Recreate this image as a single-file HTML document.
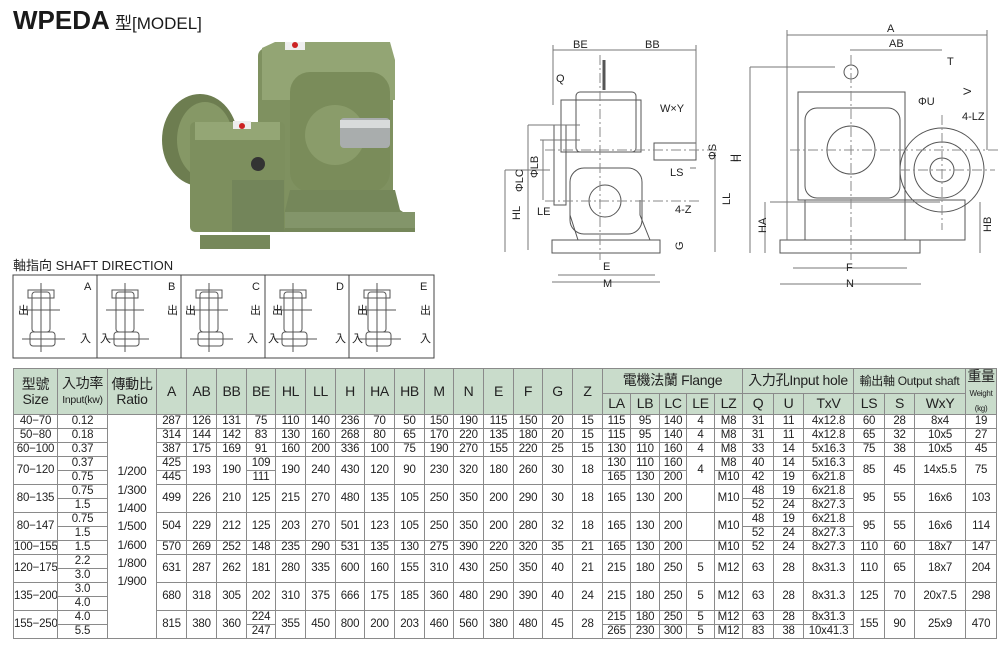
<!DOCTYPE html>
<html><head><meta charset="utf-8"><style>
body{margin:0;background:#fff;width:1000px;height:664px;position:relative;overflow:hidden;font-family:"Liberation Sans","Noto Sans CJK TC",sans-serif;color:#222}
svg{position:absolute;left:0;top:0}
table{position:absolute;left:13px;top:368px;width:983px;border-collapse:collapse;table-layout:fixed;font-size:11.5px;letter-spacing:-0.2px}
td{border:1px solid #8a8a8a;padding:0;text-align:center;height:13px;line-height:13px;white-space:nowrap;overflow:hidden}
.h td{background:#c9dccb;font-size:14px;line-height:15px;letter-spacing:-0.3px}
.sm{font-size:10.5px!important}
.ratio{line-height:18.3px;font-size:12px}
</style></head><body>
<svg width="1000" height="366" viewBox="0 0 1000 366">
<text x="13" y="29" font-family="Liberation Sans" font-weight="bold" font-size="26" fill="#1a1a1a">WPEDA</text>
<text x="115" y="29" font-family="Liberation Sans,Noto Sans CJK TC,sans-serif" font-size="17" fill="#1a1a1a">型[MODEL]</text>
<g>
<ellipse cx="200" cy="140" rx="38" ry="46" fill="#6d7d50"/>
<ellipse cx="205" cy="140" rx="28" ry="38" fill="#869866"/>
<rect x="258" y="48" width="135" height="180" rx="8" fill="#7f9160"/>
<path d="M262 48 L275 42 L390 42 L395 60 L395 100 L262 100Z" fill="#93a574"/>
<rect x="290" y="72" width="100" height="120" rx="20" fill="#7a8c5a"/>
<circle cx="335" cy="135" r="30" fill="#8a9c6a"/>
<rect x="340" y="118" width="50" height="30" rx="4" fill="#a9adad"/>
<rect x="340" y="120" width="50" height="8" fill="#d8dbdb"/>
<path d="M290 190 L395 190 L400 210 L415 220 L415 232 L280 232Z" fill="#75875a"/>
<rect x="190" y="122" width="95" height="110" rx="5" fill="#7d8f5e"/>
<rect x="195" y="122" width="85" height="18" fill="#94a675"/>
<rect x="232" y="180" width="52" height="52" fill="#73855a"/>
<circle cx="258" cy="164" r="7" fill="#333"/>
<rect x="200" y="235" width="70" height="14" fill="#76885a"/>
<rect x="285" y="212" width="130" height="16" fill="#83956a"/>
<rect x="285" y="42" width="20" height="8" fill="#eee"/><circle cx="295" cy="45" r="3" fill="#c22"/>
<rect x="233" y="121" width="18" height="8" fill="#eee"/><circle cx="242" cy="126" r="3" fill="#c22"/>
</g>
<g stroke="#555" stroke-width="1" fill="none" font-family="Liberation Sans" font-size="11">
<rect x="552" y="240" width="108" height="13"/>
<path d="M578 240 L570 215 L570 200 M640 200 L640 215 L650 240"/>
<rect x="576" y="92" width="60" height="60" rx="4"/>
<rect x="561" y="100" width="80" height="52"/>
<rect x="570" y="168" width="72" height="66" rx="14"/>
<circle cx="605" cy="201" r="16"/>
<rect x="654" y="143" width="42" height="17"/>
<rect x="554" y="125" width="12" height="80"/>
<path d="M604 60 L604 90" stroke-width="3"/>
<path d="M553 50 L696 50 M553 45 L553 105 M696 45 L696 150 M528 125 L580 125 M540 140 L580 140 M528 125 L528 250 M543 140 L543 200 M505 170 L550 170 M505 170 L505 252 M715 152 L715 252 M558 275 L655 275 M552 282 L660 282 M690 168 L696 168" stroke="#777"/>
<path d="M600 55 L600 260 M545 150 L720 150 M545 201 L700 201" stroke="#888" stroke-dasharray="10 3 2 3"/>
<g fill="#222" stroke="none">
<text x="573" y="48">BE</text><text x="645" y="48">BB</text><text x="556" y="82">Q</text>
<text x="660" y="112">W×Y</text><text x="670" y="176">LS</text><text x="537" y="215">LE</text>
<text x="675" y="213">4-Z</text><text x="603" y="270">E</text><text x="603" y="287">M</text>
<text x="738" y="162" transform="rotate(-90 738 162)">H</text>
<text x="730" y="205" transform="rotate(-90 730 205)">LL</text>
<text x="520" y="220" transform="rotate(-90 520 220)">HL</text>
<text x="523" y="192" transform="rotate(-90 523 192)">ΦLC</text>
<text x="538" y="178" transform="rotate(-90 538 178)">ΦLB</text>
<text x="716" y="160" transform="rotate(-90 716 160)">ΦS</text>
<text x="683" y="250" transform="rotate(-90 683 250)">G</text>
</g></g>
<g stroke="#555" stroke-width="1" fill="none" font-family="Liberation Sans" font-size="11">
<rect x="780" y="240" width="140" height="13"/>
<path d="M798 92 L905 92 L905 200 L798 200Z"/>
<rect x="805" y="108" width="95" height="90" rx="12"/>
<circle cx="851" cy="150" r="24"/>
<circle cx="851" cy="72" r="7"/>
<circle cx="942" cy="170" r="42"/><circle cx="942" cy="170" r="28"/><circle cx="942" cy="170" r="12"/>
<rect x="805" y="200" width="100" height="40"/>
<rect x="905" y="200" width="60" height="40"/>
<path d="M787 35 L987 35 M850 50 L942 50 M787 30 L787 240 M987 30 L987 150 M750 67 L835 67 M750 67 L750 253 M770 202 L940 202 M765 202 L765 253 M980 202 L980 253 M793 268 L907 268 M780 284 L921 284" stroke="#777"/>
<path d="M851 55 L851 260 M790 150 L1000 150 M942 115 L942 230 M900 170 L995 170" stroke="#888" stroke-dasharray="10 3 2 3"/>
<g fill="#222" stroke="none">
<text x="887" y="32">A</text><text x="889" y="47">AB</text><text x="947" y="65">T</text>
<text x="918" y="105">ΦU</text><text x="962" y="120">4-LZ</text><text x="846" y="271">F</text><text x="846" y="287">N</text>
<text x="741" y="162" transform="rotate(-90 741 162)">H</text>
<text x="766" y="233" transform="rotate(-90 766 233)">HA</text>
<text x="991" y="232" transform="rotate(-90 991 232)">HB</text>
<text x="971" y="95" transform="rotate(-90 971 95)">V</text>
</g></g>
<text x="13" y="270" font-family="Liberation Sans,Noto Sans CJK TC,sans-serif" font-size="13" fill="#222">軸指向  SHAFT DIRECTION</text>
<defs><g id="m" stroke="#555" fill="none" stroke-width="1">
<rect x="32" y="292" width="18" height="40" rx="3"/><rect x="28" y="290" width="26" height="8"/>
<rect x="30" y="332" width="25" height="14" rx="3"/>
<path d="M41 283 L41 352 M22 310 L60 310 M22 339 L65 339"/>
</g></defs>
<g stroke="#444" fill="none"><rect x="13" y="275" width="421" height="83"/>
<path d="M97 275V358M181 275V358M265 275V358M349 275V358"/></g>
<use href="#m" x="0"/><use href="#m" x="84"/><use href="#m" x="168"/><use href="#m" x="252"/><use href="#m" x="336"/>
<g font-family="Liberation Sans,Noto Sans CJK TC,sans-serif" font-size="11" fill="#222">
<text x="84" y="290">A</text><text x="168" y="290">B</text><text x="252" y="290">C</text><text x="336" y="290">D</text><text x="420" y="290">E</text>
<text x="80" y="342">入</text><text x="100" y="342">入</text><text x="247" y="342">入</text><text x="268" y="342">入</text><text x="335" y="342">入</text><text x="352" y="342">入</text><text x="420" y="342">入</text>
<text x="18" y="314">出</text><text x="167" y="314">出</text><text x="185" y="314">出</text><text x="250" y="314">出</text><text x="272" y="314">出</text><text x="357" y="314">出</text><text x="420" y="314">出</text>
</g>
</svg>
<table>
<colgroup><col style="width:44px"><col style="width:50px"><col style="width:49px"><col style="width:30px"><col style="width:30px"><col style="width:30px"><col style="width:29px"><col style="width:30px"><col style="width:30px"><col style="width:29px"><col style="width:30px"><col style="width:30px"><col style="width:29px"><col style="width:30px"><col style="width:30px"><col style="width:29px"><col style="width:30px"><col style="width:30px"><col style="width:28px"><col style="width:29px"><col style="width:27px"><col style="width:28px"><col style="width:28px"><col style="width:31px"><col style="width:30px"><col style="width:50px"><col style="width:31px"><col style="width:30px"><col style="width:51px"><col style="width:31px"></colgroup>
<tr class="h" style="height:24px"><td rowspan="2" style="height:45px">型號<br>Size</td><td rowspan="2">入功率<br><span class="sm">Input(kw)</span></td><td rowspan="2">傳動比<br>Ratio</td><td rowspan="2">A</td><td rowspan="2">AB</td><td rowspan="2">BB</td><td rowspan="2">BE</td><td rowspan="2">HL</td><td rowspan="2">LL</td><td rowspan="2">H</td><td rowspan="2">HA</td><td rowspan="2">HB</td><td rowspan="2">M</td><td rowspan="2">N</td><td rowspan="2">E</td><td rowspan="2">F</td><td rowspan="2">G</td><td rowspan="2">Z</td><td colspan="5">電機法蘭 Flange</td><td colspan="3">入力孔Input hole</td><td colspan="3"><span style="font-size:12px">輸出軸 Output shaft</span></td><td rowspan="2">重量<br><span style="font-size:8px;line-height:9px">Weight<br>(kg)</span></td></tr>
<tr class="h" style="height:21px"><td>LA</td><td>LB</td><td>LC</td><td>LE</td><td>LZ</td><td>Q</td><td>U</td><td>TxV</td><td>LS</td><td>S</td><td>WxY</td></tr>
<tr><td>40−70</td><td>0.12</td><td rowspan="16" class="ratio">1/200<br>1/300<br>1/400<br>1/500<br>1/600<br>1/800<br>1/900</td><td>287</td><td>126</td><td>131</td><td>75</td><td>110</td><td>140</td><td>236</td><td>70</td><td>50</td><td>150</td><td>190</td><td>115</td><td>150</td><td>20</td><td>15</td><td>115</td><td>95</td><td>140</td><td>4</td><td>M8</td><td>31</td><td>11</td><td>4x12.8</td><td>60</td><td>28</td><td>8x4</td><td>19</td></tr>
<tr><td>50−80</td><td>0.18</td><td>314</td><td>144</td><td>142</td><td>83</td><td>130</td><td>160</td><td>268</td><td>80</td><td>65</td><td>170</td><td>220</td><td>135</td><td>180</td><td>20</td><td>15</td><td>115</td><td>95</td><td>140</td><td>4</td><td>M8</td><td>31</td><td>11</td><td>4x12.8</td><td>65</td><td>32</td><td>10x5</td><td>27</td></tr>
<tr><td>60−100</td><td>0.37</td><td>387</td><td>175</td><td>169</td><td>91</td><td>160</td><td>200</td><td>336</td><td>100</td><td>75</td><td>190</td><td>270</td><td>155</td><td>220</td><td>25</td><td>15</td><td>130</td><td>110</td><td>160</td><td>4</td><td>M8</td><td>33</td><td>14</td><td>5x16.3</td><td>75</td><td>38</td><td>10x5</td><td>45</td></tr>
<tr><td rowspan="2">70−120</td><td>0.37</td><td>425</td><td rowspan="2">193</td><td rowspan="2">190</td><td>109</td><td rowspan="2">190</td><td rowspan="2">240</td><td rowspan="2">430</td><td rowspan="2">120</td><td rowspan="2">90</td><td rowspan="2">230</td><td rowspan="2">320</td><td rowspan="2">180</td><td rowspan="2">260</td><td rowspan="2">30</td><td rowspan="2">18</td><td>130</td><td>110</td><td>160</td><td rowspan="2">4</td><td>M8</td><td>40</td><td>14</td><td>5x16.3</td><td rowspan="2">85</td><td rowspan="2">45</td><td rowspan="2">14x5.5</td><td rowspan="2">75</td></tr>
<tr><td>0.75</td><td>445</td><td>111</td><td>165</td><td>130</td><td>200</td><td>M10</td><td>42</td><td>19</td><td>6x21.8</td></tr>
<tr><td rowspan="2">80−135</td><td>0.75</td><td rowspan="2">499</td><td rowspan="2">226</td><td rowspan="2">210</td><td rowspan="2">125</td><td rowspan="2">215</td><td rowspan="2">270</td><td rowspan="2">480</td><td rowspan="2">135</td><td rowspan="2">105</td><td rowspan="2">250</td><td rowspan="2">350</td><td rowspan="2">200</td><td rowspan="2">290</td><td rowspan="2">30</td><td rowspan="2">18</td><td rowspan="2">165</td><td rowspan="2">130</td><td rowspan="2">200</td><td rowspan="2"></td><td rowspan="2">M10</td><td>48</td><td>19</td><td>6x21.8</td><td rowspan="2">95</td><td rowspan="2">55</td><td rowspan="2">16x6</td><td rowspan="2">103</td></tr>
<tr><td>1.5</td><td>52</td><td>24</td><td>8x27.3</td></tr>
<tr><td rowspan="2">80−147</td><td>0.75</td><td rowspan="2">504</td><td rowspan="2">229</td><td rowspan="2">212</td><td rowspan="2">125</td><td rowspan="2">203</td><td rowspan="2">270</td><td rowspan="2">501</td><td rowspan="2">123</td><td rowspan="2">105</td><td rowspan="2">250</td><td rowspan="2">350</td><td rowspan="2">200</td><td rowspan="2">280</td><td rowspan="2">32</td><td rowspan="2">18</td><td rowspan="2">165</td><td rowspan="2">130</td><td rowspan="2">200</td><td rowspan="2"></td><td rowspan="2">M10</td><td>48</td><td>19</td><td>6x21.8</td><td rowspan="2">95</td><td rowspan="2">55</td><td rowspan="2">16x6</td><td rowspan="2">114</td></tr>
<tr><td>1.5</td><td>52</td><td>24</td><td>8x27.3</td></tr>
<tr><td>100−155</td><td>1.5</td><td>570</td><td>269</td><td>252</td><td>148</td><td>235</td><td>290</td><td>531</td><td>135</td><td>130</td><td>275</td><td>390</td><td>220</td><td>320</td><td>35</td><td>21</td><td>165</td><td>130</td><td>200</td><td></td><td>M10</td><td>52</td><td>24</td><td>8x27.3</td><td>110</td><td>60</td><td>18x7</td><td>147</td></tr>
<tr><td rowspan="2">120−175</td><td>2.2</td><td rowspan="2">631</td><td rowspan="2">287</td><td rowspan="2">262</td><td rowspan="2">181</td><td rowspan="2">280</td><td rowspan="2">335</td><td rowspan="2">600</td><td rowspan="2">160</td><td rowspan="2">155</td><td rowspan="2">310</td><td rowspan="2">430</td><td rowspan="2">250</td><td rowspan="2">350</td><td rowspan="2">40</td><td rowspan="2">21</td><td rowspan="2">215</td><td rowspan="2">180</td><td rowspan="2">250</td><td rowspan="2">5</td><td rowspan="2">M12</td><td rowspan="2">63</td><td rowspan="2">28</td><td rowspan="2">8x31.3</td><td rowspan="2">110</td><td rowspan="2">65</td><td rowspan="2">18x7</td><td rowspan="2">204</td></tr>
<tr><td>3.0</td></tr>
<tr><td rowspan="2">135−200</td><td>3.0</td><td rowspan="2">680</td><td rowspan="2">318</td><td rowspan="2">305</td><td rowspan="2">202</td><td rowspan="2">310</td><td rowspan="2">375</td><td rowspan="2">666</td><td rowspan="2">175</td><td rowspan="2">185</td><td rowspan="2">360</td><td rowspan="2">480</td><td rowspan="2">290</td><td rowspan="2">390</td><td rowspan="2">40</td><td rowspan="2">24</td><td rowspan="2">215</td><td rowspan="2">180</td><td rowspan="2">250</td><td rowspan="2">5</td><td rowspan="2">M12</td><td rowspan="2">63</td><td rowspan="2">28</td><td rowspan="2">8x31.3</td><td rowspan="2">125</td><td rowspan="2">70</td><td rowspan="2">20x7.5</td><td rowspan="2">298</td></tr>
<tr><td>4.0</td></tr>
<tr><td rowspan="2">155−250</td><td>4.0</td><td rowspan="2">815</td><td rowspan="2">380</td><td rowspan="2">360</td><td>224</td><td rowspan="2">355</td><td rowspan="2">450</td><td rowspan="2">800</td><td rowspan="2">200</td><td rowspan="2">203</td><td rowspan="2">460</td><td rowspan="2">560</td><td rowspan="2">380</td><td rowspan="2">480</td><td rowspan="2">45</td><td rowspan="2">28</td><td>215</td><td>180</td><td>250</td><td>5</td><td>M12</td><td>63</td><td>28</td><td>8x31.3</td><td rowspan="2">155</td><td rowspan="2">90</td><td rowspan="2">25x9</td><td rowspan="2">470</td></tr>
<tr><td>5.5</td><td>247</td><td>265</td><td>230</td><td>300</td><td>5</td><td>M12</td><td>83</td><td>38</td><td>10x41.3</td></tr>
</table>
</body></html>
